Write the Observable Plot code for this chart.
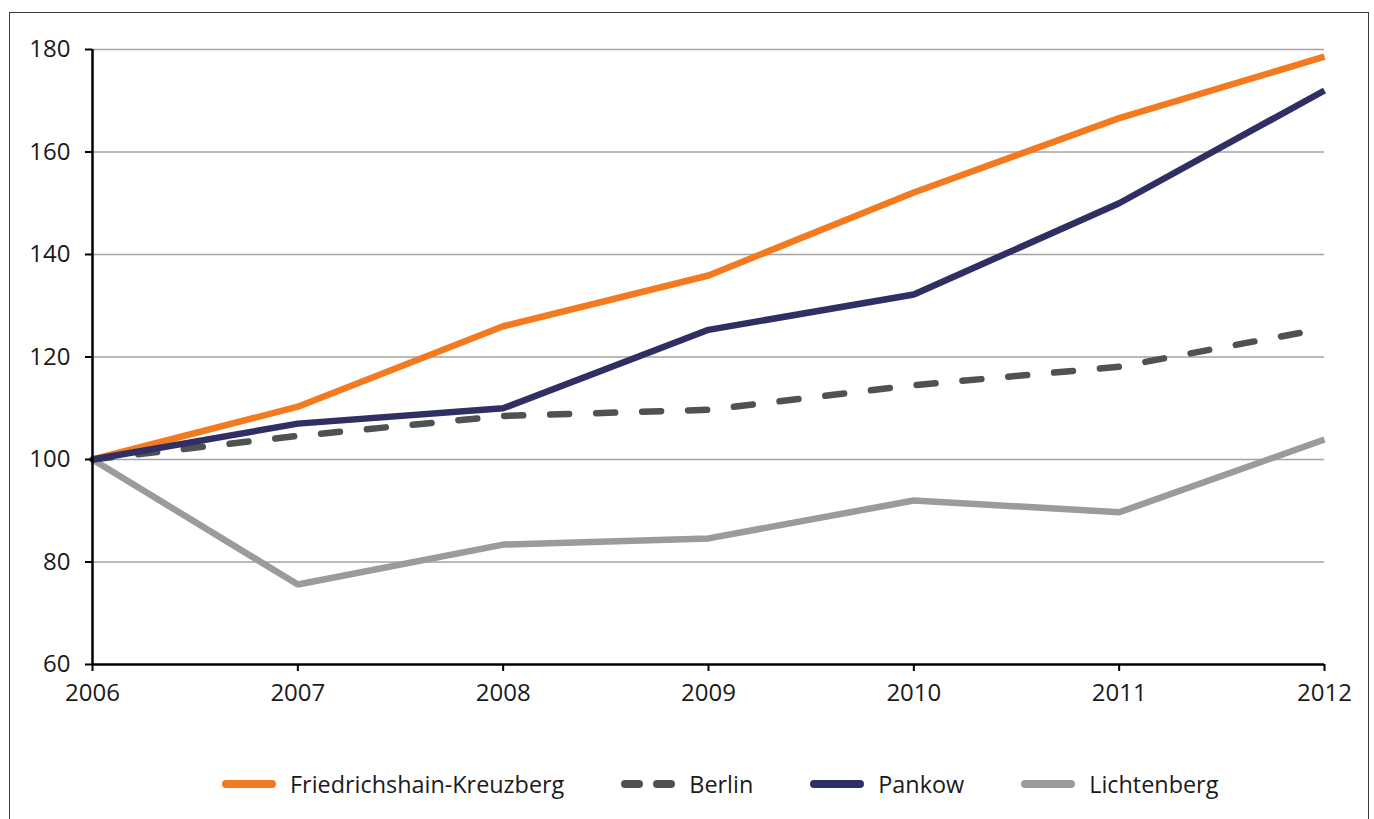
<!DOCTYPE html>
<html>
<head>
<meta charset="utf-8">
<script src="https://cdn.jsdelivr.net/npm/d3@7"></script>
<script src="https://cdn.jsdelivr.net/npm/@observablehq/plot@0.6"></script>
<style>
  html, body { margin: 0; padding: 0; background: #fff; }
  body { width: 1374px; height: 819px; position: relative; overflow: hidden; font-family: "Open Sans", sans-serif; }
  #frame { position: absolute; left: 9px; top: 12px; width: 1360px; height: 900px; border: 1.5px solid #3a3a3a; box-sizing: border-box; }
  #chart { position: absolute; left: 0; top: 0; }
  #legend { position: absolute; left: 220px; top: 768px; display: flex; align-items: center; font-size: 23.4px; color: #1a1a1a; }
  .item { display: flex; align-items: center; margin-right: 55px; }
  .item svg { margin-right: 14px; }
</style>
</head>
<body>
<div id="frame"></div>
<div id="chart"></div>
<div id="legend"></div>
<script>
const years = [2006, 2007, 2008, 2009, 2010, 2011, 2012];
const friedrichshainKreuzberg = [100, 110.3, 126.0, 135.9, 152.1, 166.6, 178.6];
const berlin = [100, 104.6, 108.5, 109.7, 114.5, 118.1, 125.6];
const pankow = [100, 107.0, 110.0, 125.3, 132.2, 150.0, 172.0];
const lichtenberg = [100, 75.6, 83.4, 84.6, 92.0, 89.7, 103.9];
const yTicks = [60, 80, 100, 120, 140, 160, 180];
const gridTicks = [80, 100, 120, 140, 160, 180];

const seriesNames = ["Friedrichshain-Kreuzberg", "Berlin", "Pankow", "Lichtenberg"];
const seriesColors = ["#F47A20", "#4E5352", "#2F2F64", "#9A9B9E"];
const seriesDash = [null, "19,27", null, null];

const toRows = vals => years.map((y, i) => ({year: y, value: vals[i]}));

const lineOpts = (i) => ({
  x: "year", y: "value",
  stroke: seriesColors[i], strokeWidth: 6.5,
  strokeLinejoin: "miter",
  strokeLinecap: seriesDash[i] ? "round" : "butt",
  strokeDasharray: seriesDash[i] || undefined
});

const chart = Plot.plot({
  width: 1374,
  height: 720,
  marginLeft: 92,
  marginRight: 50,
  marginTop: 49,
  marginBottom: 56,
  style: {fontFamily: "'Open Sans', sans-serif", fontSize: "24px", color: "#1a1a1a", background: "transparent", overflow: "visible"},
  x: {domain: [2006, 2012]},
  y: {domain: [60, 180]},
  marks: [
    Plot.ruleY(gridTicks, {stroke: "#a3a3a3", strokeWidth: 1.6}),
    Plot.line(toRows(lichtenberg), lineOpts(3)),
    Plot.line(toRows(berlin), lineOpts(1)),
    Plot.line(toRows(friedrichshainKreuzberg), lineOpts(0)),
    Plot.line(toRows(pankow), lineOpts(2)),
    Plot.axisY({ticks: yTicks, tickSize: 7, tickPadding: 15, stroke: "#000", strokeWidth: 2, strokeOpacity: 1, fontSize: 24, label: null}),
    Plot.axisX({ticks: years, tickFormat: d => String(d), tickSize: 7, tickPadding: 12, stroke: "#000", strokeWidth: 2, strokeOpacity: 1, fontSize: 24, label: null}),
    Plot.ruleX([2006], {stroke: "#000", strokeWidth: 2.5}),
    Plot.ruleY([60], {stroke: "#000", strokeWidth: 2.5})
  ]
});
document.getElementById("chart").appendChild(chart);

const legend = document.getElementById("legend");
seriesNames.forEach((name, i) => {
  const item = document.createElement("div");
  item.className = "item";
  const dash = seriesDash[i];
  const sw = dash
    ? `<svg width="56" height="12"><line x1="6" y1="6" x2="52" y2="6" stroke="${seriesColors[i]}" stroke-width="8" stroke-linecap="round" stroke-dasharray="14,18"/></svg>`
    : `<svg width="56" height="12"><line x1="6" y1="6" x2="52" y2="6" stroke="${seriesColors[i]}" stroke-width="8" stroke-linecap="round"/></svg>`;
  item.innerHTML = sw + `<span>${name}</span>`;
  legend.appendChild(item);
});
</script>
</body>
</html>
